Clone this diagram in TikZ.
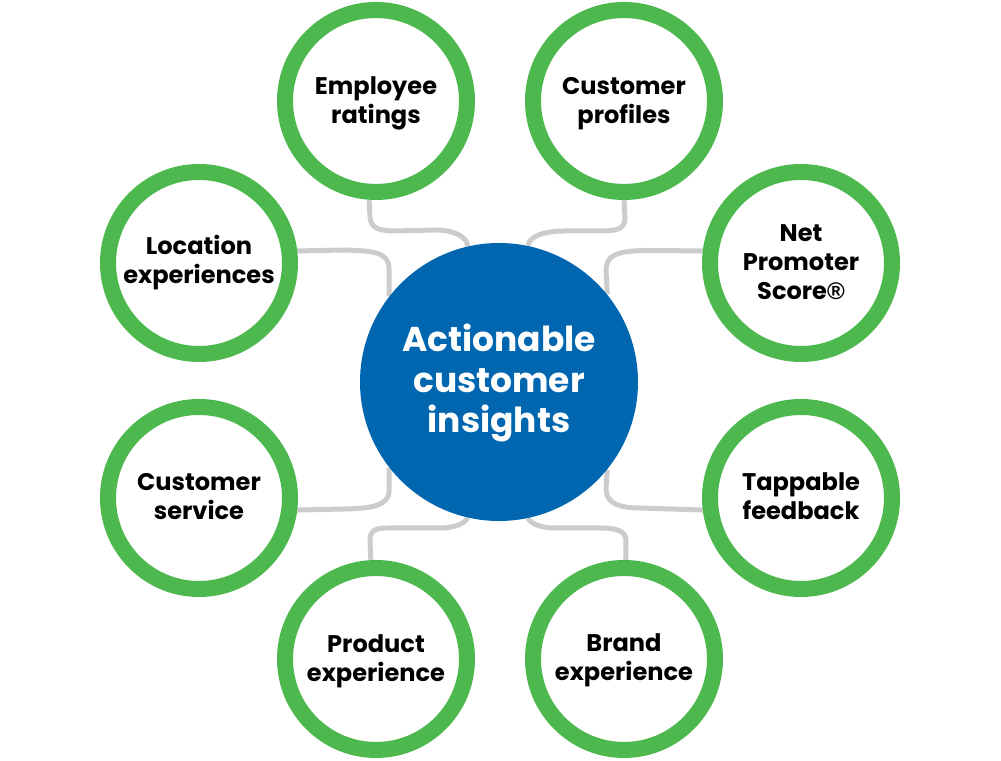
\documentclass[tikz,border=0pt]{standalone}
\usepackage{fontspec}
\setmainfont{Poppins}[BoldFont={* Bold}]
\newfontfamily\regfont{Liberation Sans}[BoldFont={* Bold}]
\usetikzlibrary{backgrounds}
\definecolor{ringgreen}{HTML}{4DB84E}
\definecolor{hubblue}{HTML}{0066B0}
\definecolor{linkgray}{HTML}{CCCCCC}
\newcommand{\ringtext}[2]{\rule{0pt}{#1}#2\strut}
\tikzset{
	ring/.style={circle, draw=ringgreen, line width=0.32cm, fill=white, minimum size=3.64cm, inner sep=0pt, align=center, font=\fontsize{13.7pt}{16.4pt}\selectfont\bfseries},
	hub/.style={circle, fill=hubblue, minimum size=5.56cm, inner sep=0pt, align=center, text=white, font=\fontsize{19.6pt}{23.2pt}\selectfont\bfseries},
	link/.style={draw=linkgray, line width=0.1cm}
}

\begin{document}
\begin{tikzpicture}
		\useasboundingbox (0,0) rectangle (20.02,15.22);
		\node[hub] (hub) at (9.98,7.58) {\ringtext{18.5pt}{Actionable\\customer\\insights}};
		\node[ring] (employee) at (7.52,13.2) {\ringtext{13.7pt}{Employee\\ratings}};
		\node[ring] (profiles) at (12.48,13.2) {\ringtext{13.7pt}{Customer\\profiles}};
		\node[ring] (location) at (3.98,9.96) {\ringtext{12.1pt}{Location\\experiences}};
		\node[ring] (nps) at (16.02,9.96) {\ringtext{13.2pt}{Net\\Promoter\\Score{\regfont ®}}};
		\node[ring] (service) at (3.98,5.26) {\ringtext{12.6pt}{Customer\\service}};
		\node[ring] (tappable) at (16.02,5.26) {\ringtext{12.6pt}{Tappable\\feedback}};
		\node[ring] (product) at (7.52,2.04) {\ringtext{13.8pt}{Product\\experience}};
		\node[ring] (brand) at (12.48,2.04) {\ringtext{12.6pt}{Brand\\experience}};
		\begin{scope}[on background layer]
			\draw[link] (employee.266.5) -- (7.4,10.9) .. controls (7.4,10.65) and (7.6,10.6) .. (7.9,10.6) -- (8.7,10.62) .. controls (9.05,10.62) and (9.34,10.5) .. (hub.103);
			\draw[link] (profiles.270.5) -- (12.5,10.86) .. controls (12.5,10.62) and (12.3,10.6) .. (12,10.6) -- (11.3,10.6) .. controls (10.9,10.6) and (10.58,10.5) .. (hub.78);
			\draw[link] (location.7) -- (6.9,10.22) .. controls (7.4,10.2) and (7.78,10.2) .. (7.78,9.85) -- (hub.142);
			\draw[link] (nps.173) -- (12.9,10.21) .. controls (12.3,10.2) and (12.12,10.1) .. (12.12,9.8) -- (hub.39.5);
			\draw[link] (service.-7) -- (6.9,5.04) .. controls (7.4,5.05) and (7.78,5.1) .. (7.78,5.4) -- (hub.218);
			\draw[link] (tappable.187) -- (12.8,5.06) .. controls (12.3,5.06) and (12.12,5.2) .. (12.12,5.45) -- (hub.-39.5);
			\draw[link] (product.93.5) -- (7.4,4.4) .. controls (7.4,4.62) and (7.5,4.66) .. (7.8,4.66) -- (8.8,4.66) .. controls (9.1,4.66) and (9.3,4.75) .. (hub.257);
			\draw[link] (brand.89) -- (12.52,4.4) .. controls (12.52,4.62) and (12.3,4.66) .. (12,4.66) -- (11.1,4.66) .. controls (10.8,4.66) and (10.62,4.75) .. (hub.282);
		\end{scope}
	\end{tikzpicture}
\end{document}
